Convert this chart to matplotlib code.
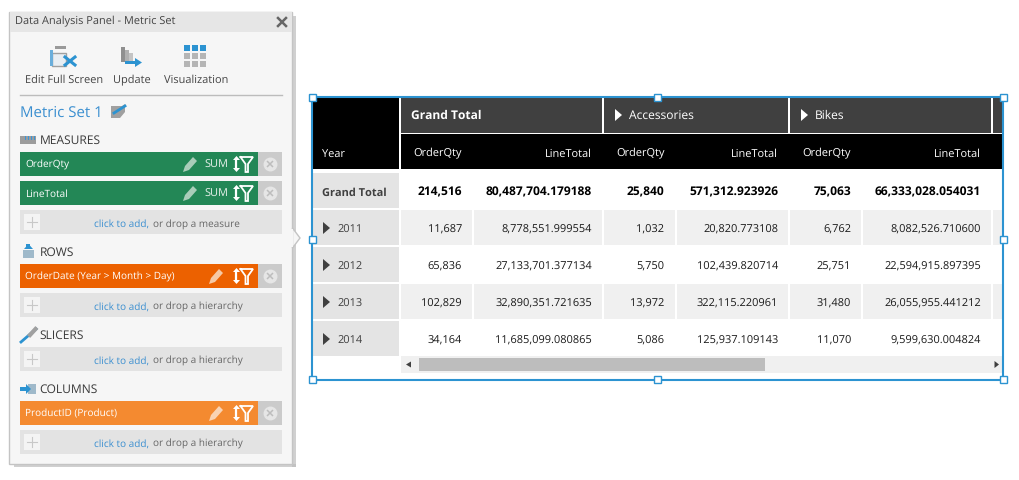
"""Data Analysis Panel next to its pivot table, drawn on a pixel-sized axes."""
import matplotlib
matplotlib.use("Agg")
import matplotlib.pyplot as plt
from matplotlib.patches import Rectangle, Polygon

plt.rcParams["font.family"] = ["Open Sans", "DejaVu Sans"]
plt.rcParams["text.hinting"] = "no_hinting"
plt.rcParams["text.hinting_factor"] = 1

# table contents
years = ["2011", "2012", "2013", "2014"]
groups = ["Grand Total", "Accessories", "Bikes"]
measures = ["OrderQty", "LineTotal"]
grand_total = ["214,516", "80,487,704.179188", "25,840", "571,312.923926", "75,063", "66,333,028.054031"]
row_2011 = ["11,687", "8,778,551.999554", "1,032", "20,820.773108", "6,762", "8,082,526.710600"]
row_2012 = ["65,836", "27,133,701.377134", "5,750", "102,439.820714", "25,751", "22,594,915.897395"]
row_2013 = ["102,829", "32,890,351.721635", "13,972", "322,115.220961", "31,480", "26,055,955.441212"]
row_2014 = ["34,164", "11,685,099.080865", "5,086", "125,937.109143", "11,070", "9,599,630.004824"]
rows = [row_2011, row_2012, row_2013, row_2014]

# panel contents
panel_title = "Data Analysis Panel - Metric Set"
toolbar = ["Edit Full Screen", "Update", "Visualization"]
metric_set = "Metric Set 1"
sections = ["MEASURES", "ROWS", "SLICERS", "COLUMNS"]

BLUE = "#2c93d1"
GREEN = "#238756"
ORANGE = "#ec6100"
LIGHT_ORANGE = "#f48a30"
LINK = "#3b8fd0"
FS = 8.25

fig = plt.figure(figsize=(10.19, 4.8), dpi=100)
ax = fig.add_axes([0, 0, 1, 1])
ax.set_xlim(0, 1019)
ax.set_ylim(480, 0)
ax.axis("off")


def box(x0, y0, x1, y1, color, z=1, **kw):
    ax.add_patch(Rectangle((x0, y0), x1 - x0, y1 - y0, fc=color, ec="none", zorder=z, **kw))


def label(x, y, s, color="#333333", size=FS, ha="left", weight="normal", z=5):
    # y is the middle of the capitals, baseline alignment keeps neighbours level
    return ax.text(x, y + 0.49 * size, s, color=color, fontsize=size, ha=ha, va="baseline",
                   fontweight=weight, zorder=z)


def tri(x, y, color):
    ax.add_patch(Polygon([(x, y - 6), (x + 7, y), (x, y + 6)], fc=color, ec="none", zorder=5))


def pencil(x, y, color):
    ax.add_patch(Polygon([(x, y + 8), (x + 2, y + 2), (x + 10, y - 7), (x + 14, y - 3), (x + 6, y + 6)],
                         fc=color, ec="none", zorder=5))


def sort_filter(x, y):
    ax.plot([x, x], [y - 5, y + 5], color="white", lw=1.6, zorder=5)
    ax.add_patch(Polygon([(x - 3.5, y - 4), (x + 3.5, y - 4), (x, y - 8)], fc="white", ec="none", zorder=5))
    ax.add_patch(Polygon([(x - 3.5, y + 4), (x + 3.5, y + 4), (x, y + 8)], fc="white", ec="none", zorder=5))
    ax.plot([x + 4, x + 16.5, x + 11.5, x + 11.5, x + 9, x + 9, x + 4], [y - 7, y - 7, y, y + 8, y + 8, y, y - 7],
            color="white", lw=1.3, zorder=5, solid_joinstyle="miter")


def chip(y0, text, color, sum_label=False, pencil_color="#a9cdb9"):
    box(20, y0, 258, y0 + 24, color, 2)
    box(258, y0, 282, y0 + 24, "#cbcbcb", 2)
    label(25, y0 + 12.5, text, "white", 6.9)
    if sum_label:
        pencil(183, y0 + 12, pencil_color)
        label(204, y0 + 12.5, "SUM", "#e6f0ea", 7.7)
    else:
        pencil(209, y0 + 12, pencil_color)
    sort_filter(236.5, y0 + 12)
    ax.plot([270], [y0 + 12], "o", ms=9, color="#e6e6e6", zorder=4)
    ax.plot([270], [y0 + 12], "x", ms=4, color="#bdbdbd", mew=1.1, zorder=5)


def add_box(y0, what):
    box(20, y0, 282, y0 + 24, "#e3e3e3", 2)
    box(24, y0 + 4, 40, y0 + 20, "#f4f4f4", 3)
    ax.plot([32, 32], [y0 + 7, y0 + 17], color="#c8c8c8", lw=0.8, zorder=4)
    ax.plot([27, 37], [y0 + 12, y0 + 12], color="#c8c8c8", lw=0.8, zorder=4)
    x_link = 94.5
    t = label(x_link, y0 + 13.5, "click to add,", LINK, 7.1)
    fig.canvas.draw()
    w = t.get_window_extent().width
    label(x_link + w + 3, y0 + 13.5, "or drop a " + what, "#666666", 6.85)


# --- panel ---
box(292, 16, 296, 467, "#bdbdbd", 0, alpha=0.7)
box(14, 464, 296, 467, "#bdbdbd", 0, alpha=0.7)
ax.add_patch(Rectangle((9.5, 11.5), 283, 452.5, fc="#f6f6f6", ec="#c4c4c4", lw=1, zorder=1))
box(10, 12, 292.5, 32, "#e6e6e6", 1.5)
ax.add_patch(Polygon([(292.5, 228), (300, 238), (292.5, 248)], fc="#f6f6f6", ec="#c4c4c4", lw=1, zorder=1))
box(291.5, 229, 293, 247, "#f6f6f6", 1.6)
label(15, 20.5, panel_title, "#444444", 7.8)
ax.plot([278, 286], [18, 26], color="#666666", lw=1.8, zorder=5)
ax.plot([286, 278], [18, 26], color="#666666", lw=1.8, zorder=5)

# toolbar icons
ax.add_patch(Rectangle((52, 53), 14, 13, fc="#e8eef3", ec="#a0a0a0", lw=1, zorder=3))
box(55, 46, 66, 49, "#9a9a9a", 3)
box(50, 50, 53, 66, "#6aaedb", 3)
ax.plot([65, 75], [57, 65], color=BLUE, lw=2.2, zorder=4)
ax.plot([75, 65], [57, 65], color=BLUE, lw=2.2, zorder=4)
box(121, 47, 125, 62, "#8f8f8f", 3)
box(125, 50, 129, 62, "#b0b0b0", 3)
box(129, 53, 133, 62, "#c4c4c4", 3)
box(125, 61, 137, 64, BLUE, 3)
ax.add_patch(Polygon([(135, 58), (142, 62.5), (135, 67)], fc=BLUE, ec="none", zorder=3))
for col in range(3):
    for r in range(3):
        box(184 + col * 8, 45 + r * 8, 190.5 + col * 8, 51 + r * 8, BLUE if r == 0 else "#b5b5b5", 3)
for x, s in zip([25.5, 113.5, 164], toolbar):
    label(x, 79, s, "#444444", 7.75)
ax.plot([20, 282], [94.5, 94.5], color="#bcbcbc", lw=1, zorder=3)

label(20, 111.5, metric_set, LINK, 10.9)
ax.add_patch(Polygon([(111, 106), (122, 106), (125, 104), (125, 112), (120, 118), (111, 118)],
                     fc="#a0a0a0", ec="none", zorder=3))
ax.plot([114, 125], [113, 106], color=BLUE, lw=2, zorder=4)

# section headers and their icons
for y, s in zip([140, 252, 335, 388.5], sections):
    label(39.5, y, s, "#3a3a3a", 8.3)
box(20, 136, 36, 144, "#9c9c9c", 3)
for x in range(25, 36, 3):
    box(x, 136, x + 1.2, 140, "#3b95d6", 4)
box(23, 250, 34, 258, "#9fb9ca", 3)
ax.add_patch(Polygon([(24, 249), (33, 249), (28.5, 244)], fc=BLUE, ec="none", zorder=3))
box(26.5, 244, 30.5, 248, BLUE, 3)
ax.plot([21, 36], [342, 329], color=BLUE, lw=2, zorder=3)
ax.plot([30, 35.5], [335, 329], color="#a0a0a0", lw=3, zorder=4)
box(28, 384, 36, 394, "#9fb9ca", 3)
ax.add_patch(Polygon([(20, 387), (26, 387), (26, 384), (31, 389), (26, 394), (26, 391), (20, 391)],
                     fc=BLUE, ec="none", zorder=4))

chip(152, measures[0], GREEN, True)
chip(181, measures[1], GREEN, True)
add_box(210, "measure")
chip(264, "OrderDate (Year > Month > Day)", ORANGE, pencil_color="#f6c9a4")
add_box(293, "hierarchy")
add_box(347, "hierarchy")
chip(401, "ProductID (Product)", LIGHT_ORANGE, pencil_color="#f9d3b3")
add_box(430, "hierarchy")

# --- table ---
box(313, 98, 399, 169, "black")
box(401, 134, 1003, 169, "black")
spans = [(401, 602), (604, 788), (790, 991.5), (993, 1003)]
for x0, x1 in spans:
    box(x0, 98, x1, 132.5, "#404040")
label(411, 115, groups[0], "white", 8.3, weight="bold")
for x0, s in zip([615, 801], groups[1:]):
    tri(x0, 115, "white")
    label(x0 + 14, 115, s, "white", 8.3)

label(322, 152.5, "Year", "white")
cols = [(401, 472), (474, 602), (604, 675), (677, 788), (790, 861), (863, 991.5), (993, 1003)]
right_edges = [462, 592, 664.5, 778, 851, 981]
for i, x in enumerate(right_edges):
    label(x, 152.5, measures[i % 2], "white", ha="right")

box(313, 173, 399, 208, "#e4e4e4")
label(322, 191.5, groups[0], "#404040", 8.2, weight="bold")
for x, s in zip(right_edges, grand_total):
    label(x, 191.5, s, "black", 8.75, ha="right", weight="bold")

for r, (year, vals) in enumerate(zip(years, rows)):
    y0 = 210 + r * 37
    box(313, y0, 399, y0 + 35, "#e4e4e4")
    if r % 2 == 0:
        for x0, x1 in cols:
            box(x0, y0, x1, y0 + 35, "#f0f0f0")
    tri(323, y0 + 18, "#404040")
    label(337, y0 + 18.5, year, "#404040")
    for x, s in zip(right_edges, vals):
        label(x, y0 + 18.5, s, "#1a1a1a", ha="right")

# scrollbar
box(401, 356, 1003, 373, "#f0f0f0")
box(419, 358, 765, 371, "#bdbdbd", 2)
ax.add_patch(Polygon([(411, 361.5), (406, 364.5), (411, 367.5)], fc="#404040", ec="none", zorder=3))
ax.add_patch(Polygon([(994.5, 361), (999, 364.5), (994.5, 368)], fc="#404040", ec="none", zorder=3))

# selection frame and handles
ax.add_patch(Rectangle((312, 97), 691.5, 283, fc="none", ec=BLUE, lw=1.5, zorder=6))
for hx in (313, 658, 1003.5):
    for hy in (97.5, 239, 379.5):
        if hx == 658 and hy == 239:
            continue
        ax.add_patch(Rectangle((hx - 3.5, hy - 3.5), 7, 7, fc="white", ec=BLUE, lw=1, zorder=7))

fig.savefig("out.png", dpi=100)
